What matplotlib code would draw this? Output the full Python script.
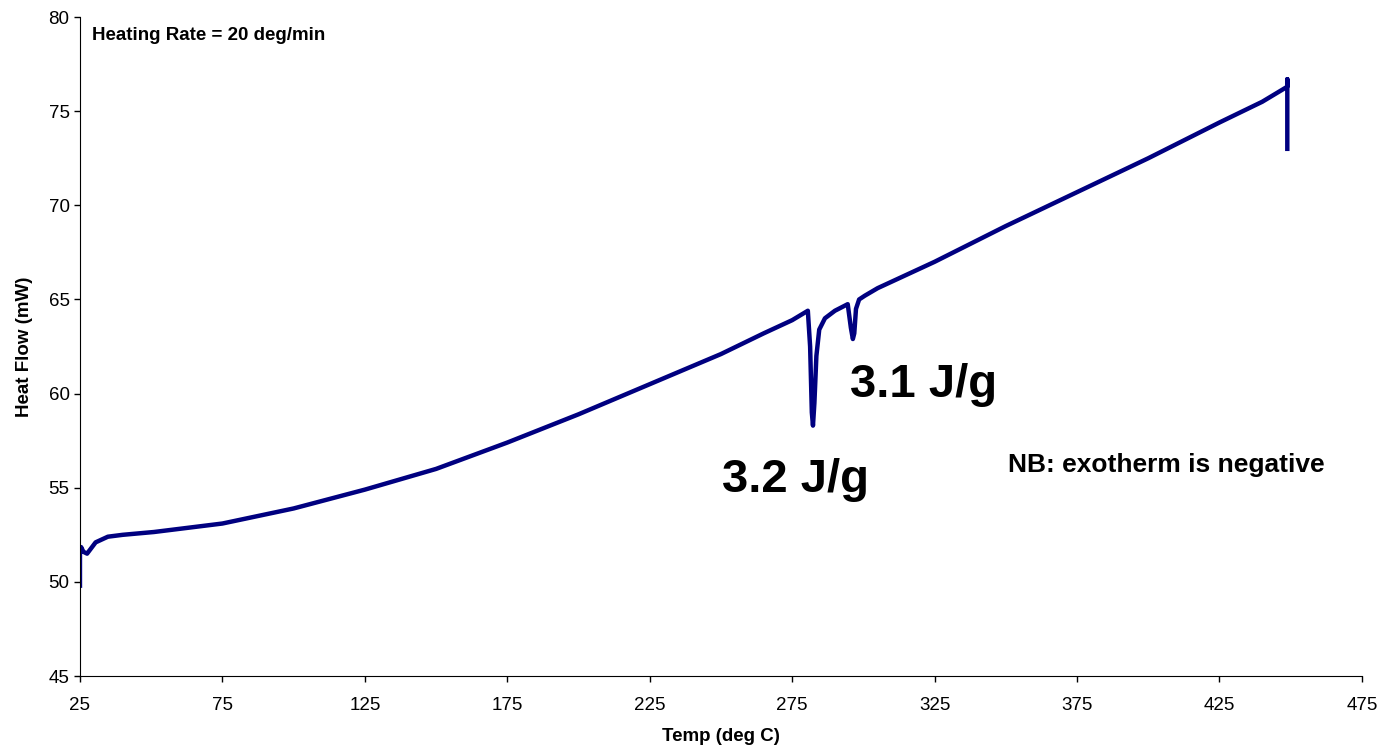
import numpy as np
import matplotlib
matplotlib.use('Agg')
import matplotlib.pyplot as plt

plt.rcParams['font.family'] = ['Liberation Sans', 'DejaVu Sans']

# DSC trace
temp = [25.0, 25.0, 25.4, 26.2, 27.5, 29.0, 30.5, 34.8, 40.0, 51.0, 75.0,
        100.0, 125.0, 150.0, 175.0, 200.0, 225.0, 250.0, 265.0, 275.0,
        280.5, 281.3, 281.9, 282.3, 282.8, 283.5, 284.5, 286.5, 290.0,
        294.5, 295.6, 296.3, 296.8, 297.4, 298.5, 300.5, 305.0, 325.0,
        350.0, 375.0, 400.0, 425.0, 440.0, 448.8, 448.8, 448.8]
heat_flow = [49.8, 51.5, 51.85, 51.6, 51.5, 51.8, 52.1, 52.4, 52.5, 52.65, 53.1,
             53.9, 54.9, 56.0, 57.4, 58.9, 60.5, 62.1, 63.2, 63.9,
             64.4, 62.5, 59.0, 58.3, 59.5, 62.0, 63.4, 64.0, 64.4,
             64.75, 63.5, 62.9, 63.2, 64.5, 65.0, 65.2, 65.6, 67.0,
             68.9, 70.7, 72.5, 74.4, 75.5, 76.3, 76.7, 73.0]

xticks = np.arange(25, 476, 50)
yticks = np.arange(45, 81, 5)

fig = plt.figure(figsize=(13.81, 7.47), dpi=100)
ax = fig.add_axes([0.0579, 0.0950, 0.9283, 0.8822])

ax.plot(temp, heat_flow, color='#000080', lw=3.2, solid_joinstyle='round')

ax.set_xlim(25, 475)
ax.set_ylim(45, 80)
ax.set_xticks(xticks)
ax.set_yticks(yticks)
ax.tick_params(labelsize=13.5, length=4, direction='out', width=1)
ax.tick_params(axis='x', pad=11)
ax.spines['top'].set_visible(False)
ax.spines['right'].set_visible(False)
ax.set_xlabel('Temp (deg C)', fontsize=13.5, fontweight='bold', labelpad=10)
ax.set_ylabel('Heat Flow (mW)', fontsize=13.5, fontweight='bold', labelpad=11)

ax.text(29.2, 79.04, 'Heating Rate = 20 deg/min', fontsize=13.5, fontweight='bold', va='center')
ax.text(295.3, 59.82, '3.1 J/g', fontsize=34, fontweight='bold', va='baseline')
ax.text(250.3, 54.77, '3.2 J/g', fontsize=34, fontweight='bold', va='baseline')
ax.text(350.7, 55.84, 'NB: exotherm is negative', fontsize=19, fontweight='bold', va='baseline')

fig.savefig('out.png')
